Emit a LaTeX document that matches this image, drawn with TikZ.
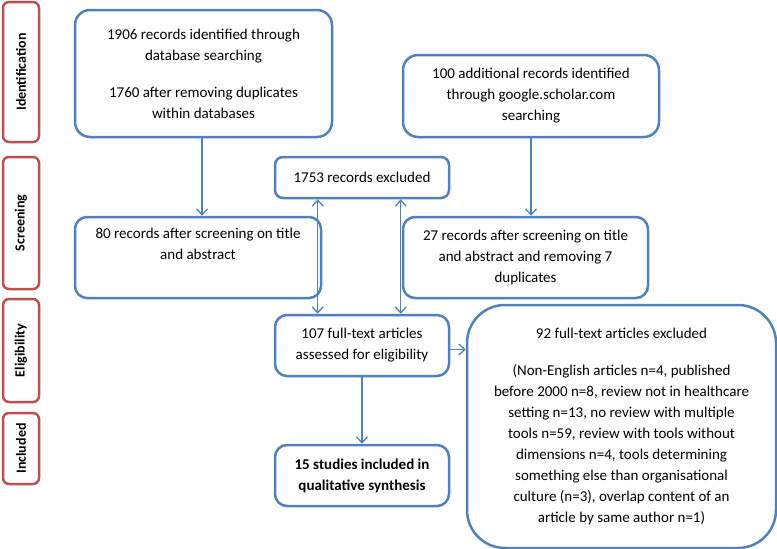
\documentclass[tikz,border=0pt]{standalone}
\usepackage{fontspec}
\setmainfont{Carlito}
\usetikzlibrary{arrows.meta,calc}
\definecolor{bl}{RGB}{79,129,189}
\definecolor{rd}{RGB}{192,80,77}
\begin{document}
\begin{tikzpicture}[x=1pt,y=-1pt,
  box/.style={draw=bl, line width=2.5pt, rounded corners=12pt, align=center,
    font=\fontsize{15}{21}\selectfont, inner sep=0pt},
  phase/.style={draw=rd, line width=2.5pt, rounded corners=6pt, inner sep=0pt,
    rotate=90, minimum height=36pt, font=\fontsize{14}{17}\selectfont\bfseries},
  arr/.style={draw=bl, line width=1.3pt, -{Straight Barb[length=6pt,width=11pt]}},
  darr/.style={draw=bl, line width=1.3pt, {Straight Barb[length=6pt,width=11pt]}-{Straight Barb[length=6pt,width=11pt]}}]
\useasboundingbox (0,0) rectangle (777,549);

% phase labels
\node[phase, minimum width=140pt] (pid) at (21,72) {Identification};
\node[phase, minimum width=132pt] (pscr) at (21,223) {Screening};
\node[phase, minimum width=103pt] (pel) at (21,350.5) {Eligibility};
\node[phase, minimum width=71pt] (pinc) at (21,448.5) {Included};

% boxes
\node[box, rounded corners=15pt, minimum width=257pt, minimum height=127pt] (db) at (203.5,73.5)
  {1906 records identified through\\database searching\\[16pt]1760 after removing duplicates\\within databases};
\node[box, rounded corners=15pt, minimum width=256pt, minimum height=82pt] (gs) at (531,96)
  {100 additional records identified\\through google.scholar.com\\searching};
\node[box, rounded corners=8pt, minimum width=174pt, minimum height=41pt] (ex) at (362,177.5)
  {1753 records excluded};
\node[box, minimum width=246pt, minimum height=81pt] (s80) at (198,257.5)
  {80 records after screening on title\\and abstract\\\strut};
\node[box, minimum width=245pt, minimum height=81pt] (s27) at (525.5,257.5)
  {27 records after screening on title\\and abstract and removing 7\\duplicates};
\node[box, minimum width=174pt, minimum height=61pt] (ft) at (362,345.5)
  {107 full-text articles\\assessed for eligibility};
\node[box, minimum width=174pt, minimum height=61pt] (inc) at (362,475.5)
  {\bfseries 15 studies included in\\\bfseries qualitative synthesis};
\node[box, rounded corners=38pt, minimum width=309pt, minimum height=243pt] (fx) at (621.5,426.5)
  {92 full-text articles excluded\\[16pt](Non-English articles n=4, published\\before 2000 n=8, review not in healthcare\\setting n=13, no review with multiple\\tools n=59, review with tools without\\dimensions n=4, tools determining\\something else than organisational\\culture (n=3), overlap content of an\\article by same author n=1)};

% connectors
\coordinate (ax) at (202,0);
\coordinate (el) at ($(ex.south west)+(44,0)$);
\coordinate (er) at ($(ex.south west)+(127,0)$);
\coordinate (fe) at ($(ft.east)+(0,4)$);
\draw[arr] (db.south -| ax) -- (s80.north -| ax);
\draw[arr] (gs.south) -- (gs.south |- s27.north);
\draw[darr] (ft.north -| el) -- (el);
\draw[darr] (ft.north -| er) -- (er);
\draw[arr] (fe) -- (fe -| fx.west);
\draw[arr] (ft.south) -- (inc.north);
\end{tikzpicture}
\end{document}
